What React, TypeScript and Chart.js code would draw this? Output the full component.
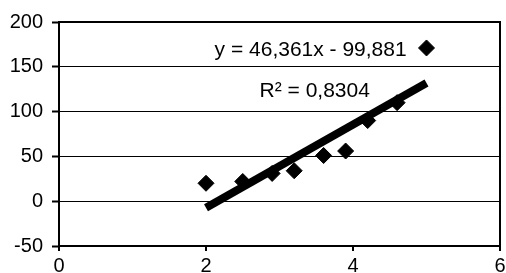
import React, { useEffect, useRef } from "react";
import { Chart, registerables } from "chart.js";

Chart.register(...registerables);

const pointX = [2, 2.5, 2.9, 3.2, 3.6, 3.9, 4.2, 4.6, 5.0];
const pointY = [20, 22, 31, 34, 51, 56, 90, 110, 171];
const trendX = [2, 5];
const trendY = [-7.2, 131.9];
const equationText = "y = 46,361x - 99,881";
const r2Text = "R² = 0,8304";
const xTicks = [0, 2, 4, 6];
const yTicks = [-50, 0, 50, 100, 150, 200];

const FONT = 'Arial, "Liberation Sans", sans-serif';

export default function App() {
  const ref = useRef<HTMLCanvasElement | null>(null);

  useEffect(() => {
    const canvas = ref.current;
    if (!canvas) return;

    const borderPlugin = {
      id: "plotBorder",
      afterDatasetsDraw(chart: any) {
        const { ctx, chartArea } = chart;
        ctx.save();
        ctx.strokeStyle = "#000";
        ctx.lineWidth = 2;
        ctx.strokeRect(chartArea.left, chartArea.top, chartArea.right - chartArea.left, chartArea.bottom - chartArea.top);
        ctx.restore();
      },
      afterDraw(chart: any) {
        const { ctx, scales } = chart;
        const xs = scales.x;
        const ys = scales.y;
        ctx.save();
        ctx.fillStyle = "#000";
        ctx.font = `21px ${FONT}`;
        ctx.textBaseline = "middle";
        ctx.textAlign = "right";
        ctx.fillText(equationText, xs.getPixelForValue(4.73), ys.getPixelForValue(168));
        ctx.fillText(r2Text, xs.getPixelForValue(4.23), ys.getPixelForValue(123));
        ctx.restore();
      },
    };

    const chart = new Chart(canvas, {
      type: "scatter",
      data: {
        datasets: [
          {
            label: "trend",
            data: trendX.map((x, i) => ({ x, y: trendY[i] })),
            showLine: true,
            borderColor: "#000",
            borderWidth: 8,
            pointRadius: 0,
            order: 0,
          },
          {
            label: "data",
            data: pointX.map((x, i) => ({ x, y: pointY[i] })),
            pointStyle: "rectRot",
            pointRadius: 8,
            pointBackgroundColor: "#000",
            pointBorderColor: "#000",
            pointBorderWidth: 1,
            showLine: false,
            order: 1,
          },
        ],
      },
      options: {
        animation: false,
        responsive: false,
        layout: { autoPadding: false, padding: { top: 22, right: 6, left: 0, bottom: 0 } },
        plugins: {
          legend: { display: false },
          tooltip: { enabled: false },
        },
        scales: {
          x: {
            type: "linear",
            min: 0,
            max: 6,
            afterBuildTicks: (scale: any) => {
              scale.ticks = xTicks.map((v) => ({ value: v }));
            },
            afterFit: (scale: any) => {
              scale.height = 27;
              scale.paddingLeft = 0;
              scale.paddingRight = 0;
            },
            ticks: {
              color: "#000",
              font: { family: FONT, size: 20 },
              padding: 3,
              maxRotation: 0,
            },
            grid: {
              drawOnChartArea: false,
              drawTicks: true,
              tickLength: 5,
              color: "#000",
              lineWidth: 2,
            },
            border: { color: "#000", width: 2 },
          },
          y: {
            type: "linear",
            min: -50,
            max: 200,
            afterBuildTicks: (scale: any) => {
              scale.ticks = yTicks.map((v) => ({ value: v }));
            },
            afterFit: (scale: any) => {
              scale.width = 59;
              scale.paddingTop = 0;
              scale.paddingBottom = 0;
            },
            ticks: {
              color: "#000",
              font: { family: FONT, size: 20 },
              padding: 9,
            },
            grid: {
              color: "#000",
              lineWidth: 1,
              drawTicks: true,
              tickLength: 7,
              tickColor: "#000",
              tickWidth: 2,
            },
            border: { color: "#000", width: 2 },
          },
        },
      },
      plugins: [borderPlugin],
    });

    return () => chart.destroy();
  }, []);

  return (
    <div style={{ position: "absolute", left: 0, top: 0, width: 506, height: 273, background: "#fff" }}>
      <canvas ref={ref} width={506} height={273} style={{ display: "block", width: 506, height: 273 }} />
    </div>
  );
}
